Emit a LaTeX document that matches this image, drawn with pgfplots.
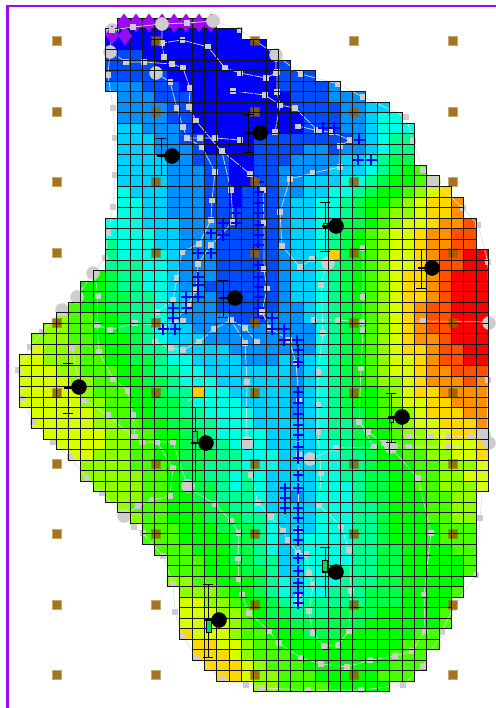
\documentclass[border=0pt]{standalone}
\usepackage{pgfplots}
\usepackage{pgfplotstable}
\pgfplotsset{compat=1.18}

\definecolor{bordp}{RGB}{155,10,245}
\definecolor{netg}{RGB}{222,222,222}
\definecolor{netm}{RGB}{205,205,205}
\definecolor{brownm}{RGB}{150,98,0}
\definecolor{yelm}{RGB}{255,204,0}
\definecolor{grnm}{RGB}{0,220,90}

% cell size in px
\pgfdeclareplotmark{cellfill}{\pgfpathrectangle{\pgfpoint{-6.2bp}{-5.3bp}}{\pgfpoint{12.4bp}{10.6bp}}\pgfusepathqfill}
\pgfdeclareplotmark{celledge}{\pgfpathrectangle{\pgfpoint{-6.18bp}{-5.265bp}}{\pgfpoint{12.36bp}{10.53bp}}\pgfusepathqstroke}

\pgfplotsset{
  net/.style={color=netg, line width=0.7bp, mark=square*, mark size=2.2bp, mark options={color=netm}},
  stem/.style={color=black, line width=0.9bp, mark=-, mark size=5bp, mark options={black, line width=0.9bp}},
  stub/.style={color=black, line width=1.6bp, mark=none},
}

% colour band of every grid cell, -1 = inactive, one line per row
\pgfplotstableread{
c0 c1 c2 c3 c4 c5 c6 c7 c8 c9 c10 c11 c12 c13 c14 c15 c16 c17 c18 c19 c20 c21 c22 c23 c24 c25 c26 c27 c28 c29 c30 c31 c32 c33 c34 c35 c36 c37
-1 -1 -1 -1 -1 -1 -1 -1 0 0 0 0 0 0 0 0 -1 -1 -1 -1 -1 -1 -1 -1 -1 -1 -1 -1 -1 -1 -1 -1 -1 -1 -1 -1 -1 -1
-1 -1 -1 -1 -1 -1 -1 1 1 1 1 1 1 1 1 1 1 1 -1 -1 -1 -1 -1 -1 -1 -1 -1 -1 -1 -1 -1 -1 -1 -1 -1 -1 -1 -1
-1 -1 -1 -1 -1 -1 -1 1 1 1 1 1 1 1 1 1 1 1 1 1 -1 -1 -1 -1 -1 -1 -1 -1 -1 -1 -1 -1 -1 -1 -1 -1 -1 -1
-1 -1 -1 -1 -1 -1 -1 2 2 2 1 1 1 1 1 1 1 1 1 1 1 -1 -1 -1 -1 -1 -1 -1 -1 -1 -1 -1 -1 -1 -1 -1 -1 -1
-1 -1 -1 -1 -1 -1 -1 2 2 2 2 1 1 1 1 1 1 1 1 1 1 2 -1 -1 -1 -1 -1 -1 -1 -1 -1 -1 -1 -1 -1 -1 -1 -1
-1 -1 -1 -1 -1 -1 -1 2 2 2 2 2 1 1 1 1 1 1 1 1 1 2 2 2 -1 -1 -1 -1 -1 -1 -1 -1 -1 -1 -1 -1 -1 -1
-1 -1 -1 -1 -1 -1 -1 3 3 3 2 2 2 1 1 1 1 1 1 1 1 2 2 2 2 3 -1 -1 -1 -1 -1 -1 -1 -1 -1 -1 -1 -1
-1 -1 -1 -1 -1 -1 -1 -1 3 3 3 2 2 2 1 1 1 1 1 1 1 1 2 2 2 3 3 3 -1 -1 -1 -1 -1 -1 -1 -1 -1 -1
-1 -1 -1 -1 -1 -1 -1 -1 3 3 3 3 2 2 1 1 1 1 1 1 1 1 2 2 2 2 3 3 4 4 -1 -1 -1 -1 -1 -1 -1 -1
-1 -1 -1 -1 -1 -1 -1 -1 3 3 3 3 2 2 1 1 1 1 1 1 1 1 1 2 2 2 3 3 4 5 5 -1 -1 -1 -1 -1 -1 -1
-1 -1 -1 -1 -1 -1 -1 -1 4 4 3 3 3 2 1 1 1 1 1 1 1 1 1 2 2 2 3 3 4 5 5 5 -1 -1 -1 -1 -1 -1
-1 -1 -1 -1 -1 -1 -1 -1 4 4 4 3 3 2 2 1 1 1 1 2 2 2 2 2 2 2 2 3 4 5 6 6 -1 -1 -1 -1 -1 -1
-1 -1 -1 -1 -1 -1 -1 -1 4 4 4 3 3 3 2 1 1 1 1 2 2 2 2 3 3 2 3 3 4 5 6 6 -1 -1 -1 -1 -1 -1
-1 -1 -1 -1 -1 -1 -1 -1 4 4 4 4 3 3 2 2 2 1 1 2 2 2 3 3 3 3 4 4 5 6 7 7 -1 -1 -1 -1 -1 -1
-1 -1 -1 -1 -1 -1 -1 -1 4 4 4 4 3 3 3 2 2 1 1 2 2 3 3 3 3 4 4 4 5 6 7 8 9 -1 -1 -1 -1 -1
-1 -1 -1 -1 -1 -1 -1 -1 4 4 4 4 3 3 3 2 2 1 1 2 2 3 3 4 4 4 5 5 6 7 8 8 9 10 -1 -1 -1 -1
-1 -1 -1 -1 -1 -1 -1 -1 5 4 4 4 3 3 3 2 2 1 2 2 2 3 3 4 4 5 5 6 7 8 8 9 10 11 12 -1 -1 -1
-1 -1 -1 -1 -1 -1 -1 -1 5 5 4 4 3 3 3 2 2 1 2 2 2 3 4 4 5 5 6 7 8 8 9 10 11 12 12 13 -1 -1
-1 -1 -1 -1 -1 -1 -1 -1 5 5 4 4 3 3 3 2 2 2 2 2 2 3 4 4 5 5 6 7 8 9 10 10 11 12 12 13 -1 -1
-1 -1 -1 -1 -1 -1 -1 5 5 5 4 4 4 3 3 3 2 2 2 2 2 3 4 4 5 6 7 7 8 9 10 11 11 12 13 13 14 -1
-1 -1 -1 -1 -1 -1 -1 5 5 5 5 4 4 3 3 3 2 2 2 2 2 3 4 4 5 6 7 8 9 10 11 11 12 13 13 14 14 -1
-1 -1 -1 -1 -1 -1 -1 6 5 5 5 4 4 3 3 3 2 2 2 2 2 3 4 4 5 6 7 8 9 10 11 11 12 13 13 14 14 -1
-1 -1 -1 -1 -1 -1 -1 6 5 5 5 5 4 3 3 3 2 2 2 2 2 3 4 4 5 5 7 8 9 10 11 11 12 13 14 14 15 15
-1 -1 -1 -1 -1 -1 -1 6 6 6 5 5 4 3 3 3 2 2 2 2 2 3 4 4 5 6 7 8 9 10 11 11 12 13 14 14 15 15
-1 -1 -1 -1 -1 -1 8 7 6 6 5 5 4 3 3 3 2 2 2 2 2 3 4 4 5 6 7 8 9 10 11 12 12 13 14 15 15 15
-1 -1 -1 -1 -1 8 8 7 6 6 5 5 4 3 3 2 2 2 2 2 2 3 4 4 5 6 7 8 9 10 11 12 12 13 14 15 15 15
-1 -1 -1 -1 -1 8 8 7 7 6 6 5 4 4 3 3 2 2 2 2 2 3 4 4 5 6 7 8 9 10 11 12 12 13 14 15 15 15
-1 -1 -1 -1 9 8 8 7 7 6 6 5 4 4 3 3 2 2 2 2 2 3 3 4 5 6 7 8 9 10 11 12 13 14 14 15 15 15
-1 -1 -1 10 9 9 8 8 7 6 6 5 4 3 3 3 3 2 2 2 3 3 3 4 5 6 7 8 9 10 11 12 13 14 14 15 15 15
-1 -1 10 10 9 9 8 8 7 7 6 5 4 4 3 3 3 3 3 3 3 3 3 3 5 6 7 8 9 10 11 12 13 14 14 15 15 15
-1 10 10 10 9 9 8 8 8 7 6 5 4 4 4 3 3 3 3 3 3 3 3 3 5 6 7 8 9 10 11 12 13 13 14 15 15 15
-1 11 10 10 10 9 9 8 8 7 6 6 5 4 4 4 4 3 3 3 3 3 3 3 5 6 7 8 9 10 11 12 12 13 14 14 15 15
11 11 10 10 10 9 9 8 8 7 7 6 5 5 4 4 4 4 3 3 3 4 3 4 5 6 7 8 9 10 11 11 12 13 14 14 15 15
11 11 11 10 10 9 9 9 8 8 7 6 6 5 5 4 4 4 4 4 4 4 3 4 5 6 7 8 9 10 11 11 12 13 13 14 14 14
11 11 11 11 10 10 9 9 8 8 7 7 6 5 5 5 4 4 4 4 4 4 3 4 5 6 7 8 9 10 10 11 12 13 13 13 14 13
11 11 11 11 11 10 9 9 9 8 8 7 6 6 5 5 5 4 4 4 4 4 3 4 5 6 7 8 8 9 10 11 12 12 13 13 13 13
11 11 11 11 11 10 10 9 9 8 8 7 7 6 5 5 5 5 4 4 4 4 3 4 5 6 7 8 8 9 10 11 11 12 12 13 13 13
-1 11 11 11 11 11 10 9 9 8 8 7 7 6 6 5 5 5 5 4 4 4 3 4 5 6 7 7 8 9 9 10 11 12 12 12 13 13
-1 11 11 11 11 11 10 10 9 9 8 8 7 7 6 6 5 5 5 4 4 4 4 4 5 6 6 7 8 8 9 10 11 11 12 12 12 13
-1 -1 11 11 11 11 11 10 10 9 9 8 8 7 7 6 5 5 5 5 4 4 4 4 5 6 6 7 8 8 9 10 10 11 11 12 12 12
-1 -1 -1 11 11 11 11 10 10 9 9 8 8 7 7 6 6 5 5 5 4 4 4 4 5 5 6 7 7 8 9 9 10 10 11 11 11 12
-1 -1 -1 -1 11 11 10 10 10 9 9 8 8 7 7 7 6 6 5 5 5 4 4 4 5 5 6 6 7 8 8 9 9 10 10 11 11 12
-1 -1 -1 -1 -1 10 10 10 10 9 9 9 8 7 7 6 6 6 5 5 5 4 4 4 5 5 6 6 7 8 8 8 9 9 10 10 10 11
-1 -1 -1 -1 -1 10 10 10 10 10 9 9 8 7 7 6 6 5 6 5 4 4 4 4 5 5 6 6 7 7 8 8 9 9 10 10 11 11
-1 -1 -1 -1 -1 -1 10 10 10 10 9 9 8 8 7 7 6 5 6 5 4 4 4 4 5 5 5 6 7 7 8 8 9 9 10 10 10 11
-1 -1 -1 -1 -1 -1 -1 10 10 10 9 9 8 8 7 7 6 6 6 5 4 4 3 4 5 5 5 6 7 7 8 8 8 9 9 10 10 -1
-1 -1 -1 -1 -1 -1 -1 -1 10 9 9 9 8 8 8 7 7 6 6 5 4 4 4 4 5 5 5 6 6 7 8 8 8 9 9 10 10 -1
-1 -1 -1 -1 -1 -1 -1 -1 -1 10 9 9 8 8 8 7 7 7 6 6 5 4 4 4 5 5 5 6 6 7 8 8 8 9 9 10 10 -1
-1 -1 -1 -1 -1 -1 -1 -1 -1 -1 9 9 9 8 8 8 7 7 7 6 5 4 4 4 5 5 5 6 6 7 8 8 8 8 9 9 9 -1
-1 -1 -1 -1 -1 -1 -1 -1 -1 -1 9 9 9 8 8 8 8 7 7 6 5 4 4 5 5 5 5 6 6 7 8 8 8 8 9 9 9 -1
-1 -1 -1 -1 -1 -1 -1 -1 -1 -1 -1 9 9 9 8 8 8 7 7 6 5 4 4 5 5 5 5 6 6 7 7 8 8 8 8 9 9 -1
-1 -1 -1 -1 -1 -1 -1 -1 -1 -1 -1 -1 9 9 9 8 8 7 7 6 6 4 4 5 5 5 5 6 6 7 7 8 8 8 8 8 9 -1
-1 -1 -1 -1 -1 -1 -1 -1 -1 -1 -1 -1 9 9 9 8 8 8 7 7 6 4 4 5 5 5 6 6 6 7 7 8 8 8 8 8 9 -1
-1 -1 -1 -1 -1 -1 -1 -1 -1 -1 -1 -1 10 10 9 9 8 8 8 7 6 5 4 5 5 5 6 6 6 7 7 8 8 8 8 8 -1 -1
-1 -1 -1 -1 -1 -1 -1 -1 -1 -1 -1 -1 -1 10 10 10 9 8 8 7 6 5 4 5 5 6 6 6 7 7 7 8 8 8 8 9 -1 -1
-1 -1 -1 -1 -1 -1 -1 -1 -1 -1 -1 -1 -1 11 11 10 10 9 8 8 7 6 5 6 6 6 6 6 7 7 7 8 8 8 8 -1 -1 -1
-1 -1 -1 -1 -1 -1 -1 -1 -1 -1 -1 -1 -1 11 11 11 10 10 9 8 7 7 6 6 6 7 7 7 7 8 8 8 8 8 9 -1 -1 -1
-1 -1 -1 -1 -1 -1 -1 -1 -1 -1 -1 -1 -1 11 11 11 11 10 9 8 8 8 7 7 7 7 7 7 8 8 8 8 8 8 9 -1 -1 -1
-1 -1 -1 -1 -1 -1 -1 -1 -1 -1 -1 -1 -1 12 11 11 11 10 9 9 8 8 8 7 7 7 8 8 8 8 8 8 9 9 -1 -1 -1 -1
-1 -1 -1 -1 -1 -1 -1 -1 -1 -1 -1 -1 -1 -1 12 12 11 11 10 9 9 8 8 8 8 8 8 8 8 8 8 9 9 9 -1 -1 -1 -1
-1 -1 -1 -1 -1 -1 -1 -1 -1 -1 -1 -1 -1 -1 12 12 12 11 10 9 9 9 8 8 8 8 8 8 8 8 9 9 9 -1 -1 -1 -1 -1
-1 -1 -1 -1 -1 -1 -1 -1 -1 -1 -1 -1 -1 -1 -1 12 12 12 11 10 9 9 9 8 8 8 8 8 8 8 9 9 9 -1 -1 -1 -1 -1
-1 -1 -1 -1 -1 -1 -1 -1 -1 -1 -1 -1 -1 -1 -1 -1 12 12 11 10 10 9 9 9 8 8 8 8 8 9 9 9 -1 -1 -1 -1 -1 -1
-1 -1 -1 -1 -1 -1 -1 -1 -1 -1 -1 -1 -1 -1 -1 -1 -1 -1 -1 10 10 9 9 9 9 8 8 8 8 8 -1 -1 -1 -1 -1 -1 -1 -1
}\cells

\begin{document}
\begin{tikzpicture}
\begin{axis}[
    hide axis, scale only axis,
    width=496bp, height=708bp,
    xmin=0, xmax=496, ymin=0, ymax=708,
    y dir=reverse, clip=true, clip mode=individual,
    point meta min=0, point meta max=15,
    colormap={bands}{rgb255=(155,0,255) rgb255=(0,0,255) rgb255=(0,75,255) rgb255=(0,144,255)
      rgb255=(0,208,255) rgb255=(0,255,224) rgb255=(0,255,144) rgb255=(0,255,72)
      rgb255=(0,255,0) rgb255=(72,255,0) rgb255=(144,255,0) rgb255=(216,255,0)
      rgb255=(255,216,0) rgb255=(255,144,0) rgb255=(255,80,0) rgb255=(255,0,0)},
]
% hidden axis adds nothing to the page size, so span it
\path (rel axis cs:0,0) rectangle (rel axis cs:1,1);

% coloured cells
\pgfplotsinvokeforeach{0,...,37}{
  \addplot[scatter, only marks, mark=cellfill, point meta=explicit,
    scatter/use mapped color={fill=mapped color, draw=none}]
    table[x expr={\thisrow{c#1}<0 ? nan : 25.18+12.36*#1},
          y expr={23.27+10.53*\coordindex}, meta=c#1] {\cells};
}

% outline of the field, grey
\addplot[net] coordinates {
  (213,21)(240,30)(276,55)(301,74)(338,84)(363,97)(406,117)(413,141)(423,170)(434,182)(463,208)(478,225)(488,262)(489,323)
  (488,380)(487,443)(480,518)(476,575)(453,608)(442,632)(423,666)(403,685)(361,690)(308,690)(261,688)(246,685)(222,679)
  (197,658)(183,636)(175,612)(173,584)(163,556)(143,533)(134,527)(124,516)(102,493)(87,478)(70,457)(53,442)(33,422)
  (22,398)(18,370)(30,347)(42,332)(62,310)(77,297)(93,273)(105,258)(108,233)(113,207)(115,175)(115,138)(113,108)(108,75)
  (110,52)(112,30)};

% pipe network, grey
\addplot[net] coordinates {(162,24)(162,43)(164,57)};
\addplot[net] coordinates {(162,43)(182,40)(208,47)(225,68)(240,73)(266,78)(276,73)(276,55)};
\addplot[net] coordinates {(110,52)(126,62)(144,62)(172,64)(183,68)(190,88)(189,107)(196,121)(222,152)(231,190)(233,222)(211,245)(198,264)(196,290)(188,306)(175,320)(163,329)};
\addplot[net] coordinates {(156,73)(170,82)(177,108)(183,127)(187,138)(200,138)(215,138)(240,140)};
\addplot[net] coordinates {(187,138)(202,147)(215,172)(212,200)(211,220)(199,244)(182,252)(177,278)(173,300)(157,312)};
\addplot[net] coordinates {(233,91)(265,95)(280,105)(295,108)(317,130)};
\addplot[net] coordinates {(277,72)(277,92)(280,105)(275,132)};
\addplot[net] coordinates {(298,126)(319,131)(331,132)(350,140)(340,146)(340,167)(313,173)(290,179)(280,212)(282,246)(300,267)(312,259)};
\addplot[net] coordinates {(222,151)(250,174)(263,190)(264,223)(264,269)(267,289)(262,312)(270,328)(289,340)(296,363)(299,400)(299,455)(298,531)(298,553)(298,595)(298,603)};
\addplot[net] coordinates {(155,342)(171,348)(183,350)(199,342)(214,329)(231,320)(245,328)(257,342)};
\addplot[net] coordinates {(231,320)(245,343)(247,382)(246,445)};
\addplot[net] coordinates {(97,325)(110,330)(135,323)(155,325)(183,321)};
\addplot[net] coordinates {(95,275)(98,296)(97,325)(99,352)(113,379)(128,391)(133,415)(135,437)(142,442)(173,442)(188,488)};
\addplot[net] coordinates {(72,348)(79,382)};
\addplot[net] coordinates {(84,400)(108,415)(133,437)};
\addplot[net] coordinates {(157,442)(173,468)(170,496)(152,500)(138,506)(124,516)};
\addplot[net] coordinates {(188,488)(215,504)(231,521)(239,533)(238,558)(239,579)(242,595)(249,613)(269,631)(279,643)(301,658)(321,664)(347,667)(370,660)(395,656)(412,651)(425,631)(424,595)(431,533)(418,478)(391,448)};
\addplot[net] coordinates {(314,320)(338,320)(363,322)(423,321)(486,322)};
\addplot[net] coordinates {(363,248)(363,297)(363,330)(361,368)(359,422)(374,447)(336,448)(310,459)};
\addplot[net] coordinates {(359,422)(368,432)(384,443)(409,447)(448,447)(486,445)};
\addplot[net] coordinates {(409,437)(431,437)(449,436)(471,437)(484,435)};
\addplot[net] coordinates {(326,265)(321,285)(323,333)(318,372)(318,405)(318,432)(321,473)(319,505)(341,526)(349,550)(351,591)(349,631)(338,645)(324,646)(313,633)(309,611)(313,585)(309,573)(306,554)(298,553)};
\addplot[net] coordinates {(251,475)(258,503)(271,517)(283,531)(288,540)(298,553)};
\addplot[color=netg, line width=0.7bp] coordinates {(188,385)(208,401)};
\addplot[color=netg, line width=0.7bp] coordinates {(208,385)(188,401)};

% big grey nodes
\addplot[only marks, mark=*, mark size=6.5bp, color=netm, mark options={fill=netm, draw=netm}]
  coordinates {(112,30)(110,52)(156,73)(213,21)(276,55)(434,182)(489,323)(489,443)(484,435)(328,263)
  (391,447)(310,459)(247,443)(188,486)(124,516)(62,310)(77,297)(93,273)};

% blue well crosses
\addplot[only marks, mark=+, mark size=5.5bp, color=blue, line width=1.6bp]
  coordinates {(212,150)(323,128)(334,128)(359,140)(358,160)(371,160)
  (223,223)(236,213)(236,223)(211,233)(223,235)(198,253)(211,253)(198,277)(198,285)(186,297)(198,297)
  (173,308)(186,308)(173,318)(163,329)(175,329)
  (258,182)(258,192)(258,203)(258,213)(258,225)(258,235)(258,245)(258,265)(258,277)(258,287)(258,297)(258,308)(258,318)
  (272,318)(272,329)(284,329)(284,340)(297,340)
  (298,350)(298,362)(298,392)(298,403)(298,414)(298,425)(298,435)(298,447)(298,458)(298,475)(298,488)
  (285,488)(285,498)(285,508)(298,508)(298,518)(298,530)(298,540)(298,558)(298,571)(298,583)(298,593)(298,603)};

% brown regular pattern
\addplot[only marks, mark=square*, mark size=4.4bp, color=brownm, mark options={fill=brownm, draw=brownm, fill opacity=.88, draw opacity=.55}]
  table {
x y
57 41
156 41
255 41
354 41
453 41
57 112
156 112
255 112
354 112
453 112
57 182
156 182
255 182
354 182
453 182
57 253
156 253
255 253
354 253
453 253
57 323
156 323
255 323
354 323
453 323
57 393
156 393
255 393
354 393
453 393
57 464
156 464
255 464
354 464
453 464
57 534
156 534
255 534
354 534
453 534
57 605
156 605
255 605
354 605
453 605
57 675
156 675
255 675
354 675
453 675
};

% yellow markers
\addplot[only marks, mark=square*, mark size=4.6bp, color=yelm, mark options={fill=yelm, draw=yelm}]
  coordinates {(198,393)(334,254)};

% cell edges above everything so far
\pgfplotsinvokeforeach{0,...,37}{
  \addplot[only marks, mark=celledge, color=black!92, line width=1bp]
    table[x expr={\thisrow{c#1}<0 ? nan : 25.18+12.36*#1},
          y expr={23.27+10.53*\coordindex}] {\cells};
}

% purple cap at the top of the field
\addplot[only marks, mark=diamond*, mark size=9bp, color=bordp, mark options={fill=bordp, draw=bordp}]
  coordinates {(124,23)(136,23)(149,23)(162,23)(174,23)(186,23)(199,23)(211,23)(125,36)(112,35)};
\addplot[net] coordinates {(112,30)(133,27)(162,24)(187,23)(213,21)};
\addplot[only marks, mark=*, mark size=6.5bp, color=netm, mark options={fill=netm, draw=netm}]
  coordinates {(162,24)(213,21)};

% well stems with caps
\addplot[stem] coordinates {(161,138)(161,175)};
\addplot[stem] coordinates {(248,114)(248,152)};
\addplot[stem] coordinates {(325,202)(325,251)};
\addplot[stem] coordinates {(421,249)(421,288)};
\addplot[stem] coordinates {(223,280)(223,317)};
\addplot[stem] coordinates {(68,363)(68,413)};
\addplot[stem] coordinates {(391,393)(391,442)};
\addplot[stem] coordinates {(195,407)(195,481)};
\addplot[stem] coordinates {(325,547)(325,597)};
\addplot[stem] coordinates {(208,584)(208,657)};

% green screens
\addplot[only marks, mark=square*, mark size=2.6bp, color=black, mark options={fill=grnm, draw=black, yscale=2.2}]
  coordinates {(195,437)(325,566)(209,626)};
\addplot[only marks, mark=square*, mark size=2bp, color=black, mark options={fill=grnm, draw=black}]
  coordinates {(325,225)(391,420)};

% stubs from stem to well
\addplot[stub] coordinates {(157,156)(172,156)};
\addplot[stub] coordinates {(244,133)(260,133)};
\addplot[stub] coordinates {(322,226)(336,226)};
\addplot[stub] coordinates {(418,268)(432,268)};
\addplot[stub] coordinates {(219,298)(235,298)};
\addplot[stub] coordinates {(64,388)(79,388)};
\addplot[stub] coordinates {(388,417)(402,417)};
\addplot[stub] coordinates {(191,443)(206,443)};
\addplot[stub] coordinates {(322,572)(336,572)};
\addplot[stub] coordinates {(204,620)(219,620)};

% wells
\addplot[only marks, mark=*, mark size=7.5bp, color=black]
  coordinates {(172,156)(260,133)(336,226)(432,268)(235,298)(79,387)(402,417)(206,443)(336,572)(219,620)};

% frame, only left and top sides are in view
\addplot[color=bordp, line width=2.2bp] coordinates {(7.5,708)(7.5,6)(496,6)};

\end{axis}
\end{tikzpicture}
\end{document}
